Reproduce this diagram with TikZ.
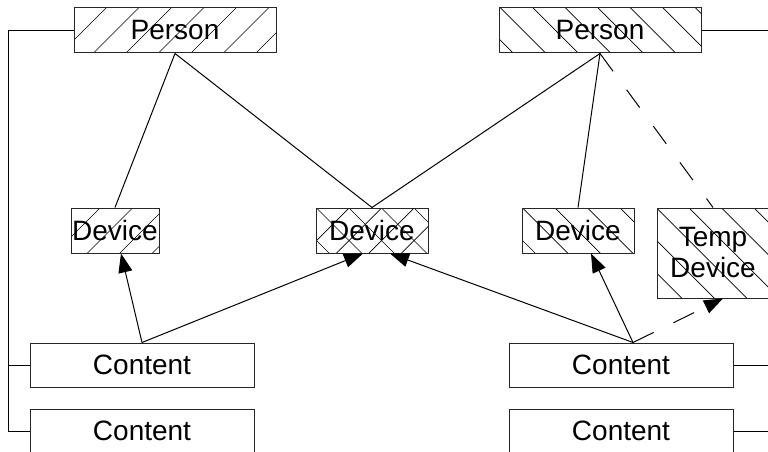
\documentclass[tikz,border=0pt]{standalone}
\usepackage{fontspec}
\setmainfont{Liberation Sans}
\usetikzlibrary{arrows.meta,calc}

\tikzset{
  box/.style={draw=black!85, line width=1pt, inner sep=0pt, align=center,
    font=\fontsize{28}{31}\selectfont, minimum height=45pt},
  hatchline/.style={line width=0.7pt, black},
  % '/' hatching, first line meets the top edge #1 units from the left corner
  hatchNE/.style={path picture={
    \foreach \k in {-10,...,10}
      \draw[hatchline] ($(path picture bounding box.north west)+({#1+\k*32.5},0)$)
        ++(-100,100) -- ++(200,-200);}},
  % '\' hatching
  hatchNW/.style={path picture={
    \foreach \k in {-10,...,10}
      \draw[hatchline] ($(path picture bounding box.north west)+({#1+\k*32.5},0)$)
        ++(-100,-100) -- ++(200,200);}},
  % cross hatching
  hatchX/.style={path picture={
    \foreach \k in {-10,...,10} {
      \draw[hatchline] ($(path picture bounding box.north west)+({#1+\k*32.5},0)$)
        ++(-100,100) -- ++(200,-200);
      \draw[hatchline] ($(path picture bounding box.north west)+({#1+\k*32.5},0)$)
        ++(-100,-100) -- ++(200,200);}}},
  link/.style={line width=1pt, black},
  arr/.style={link, -{Triangle[length=19pt,width=14pt]}},
  dashlink/.style={link, dash pattern=on 22pt off 23pt},
}

\begin{document}
\begin{tikzpicture}[x=1pt, y=-1pt]
\useasboundingbox (0,0) rectangle (768,452);

% people
\node[box, hatchNE=32, minimum width=202pt] (P1) at (175,30.5) {Person};
\node[box, hatchNW=34, minimum width=202pt] (P2) at (600,30.5) {Person};

% devices
\node[box, hatchNE=29, minimum width=88pt]  (D1) at (115,230.5) {Device};
\node[box, hatchX=0.5, minimum width=112pt] (D2) at (372,230.5) {Device};
\node[box, hatchNW=33, minimum width=112pt] (D3) at (578,230.5) {Device};
\node[box, hatchNW=32, minimum width=112pt, minimum height=90pt] (T) at (713,253) {Temp\\Device};

% content
\node[box, minimum width=224pt, minimum height=44pt] (C1) at (142,365) {Content};
\node[box, minimum width=224pt, minimum height=44pt] (C2) at (142,431) {Content};
\node[box, minimum width=224pt, minimum height=44pt] (C3) at (621,365) {Content};
\node[box, minimum width=224pt, minimum height=44pt] (C4) at (621,431) {Content};

% side buses
\coordinate (lbus) at (8,0);
\coordinate (rbus) at (774,0);
\draw[link] (P1.west) -- (P1.west -| lbus) -- (C2.west -| lbus) -- (C2.west);
\draw[link] (C1.west) -- (C1.west -| lbus);
\draw[link] (P2.east) -- (P2.east -| rbus) -- (C4.east -| rbus) -- (C4.east);
\draw[link] (C3.east) -- (C3.east -| rbus);

% ownership links
\draw[link] (P1.south) -- (D1.north);
\draw[link] (P1.south) -- (D2.north);
\draw[link] (P2.south) -- (D2.north);
\draw[link] (P2.south) -- (D3.north);
\draw[dashlink] (P2.south) -- (T.north);

% content to device
\coordinate (c3top) at ([xshift=12pt]C3.north);
\draw[arr] (C1.north) -- ([xshift=6pt]D1.south);
\draw[arr] (C1.north) -- ([xshift=-9pt]D2.south);
\draw[arr] (c3top) -- ([xshift=13pt]D3.south);
\draw[arr] (c3top) -- ([xshift=18pt]D2.south);
\draw[arr, dash pattern=on 23pt off 22pt] (c3top) -- ([xshift=10pt]T.south);
\end{tikzpicture}
\end{document}
